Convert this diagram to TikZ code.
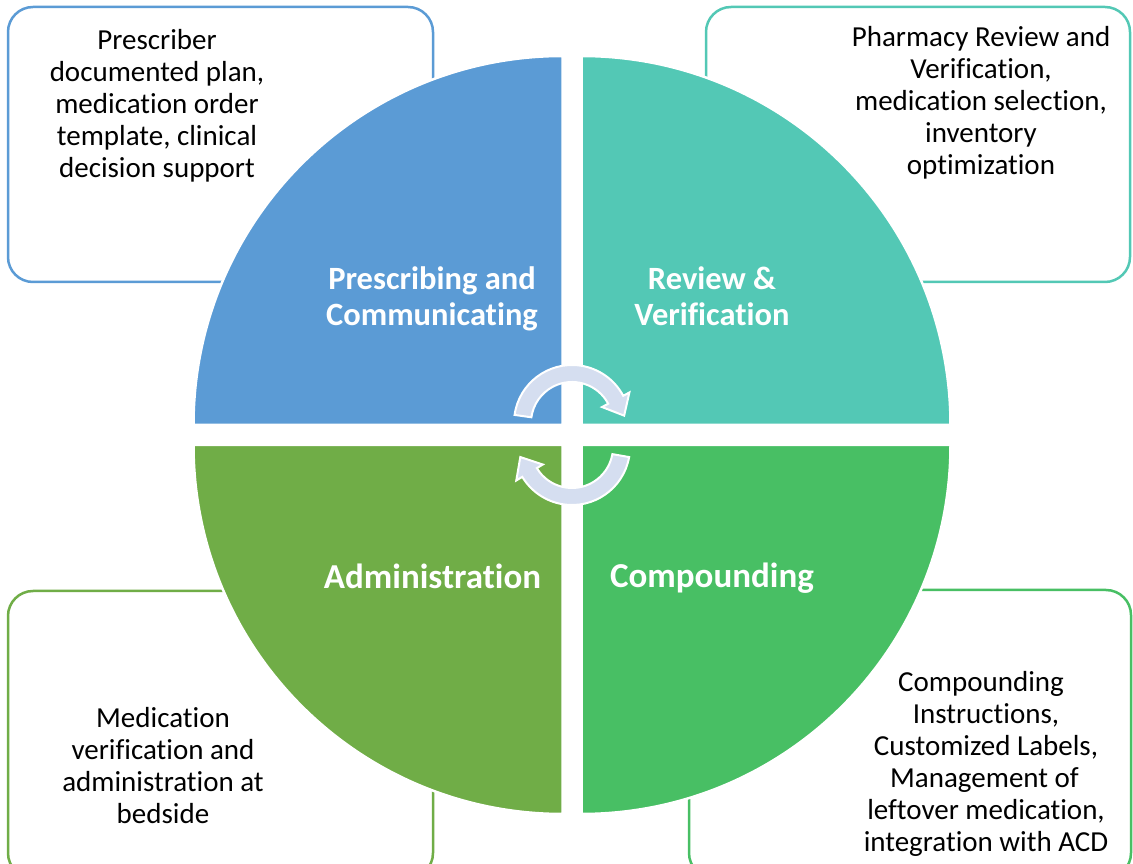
\documentclass[tikz,border=0pt]{standalone}
\usepackage{fontspec}
\setmainfont{Carlito}[Ligatures={NoCommon}]
\usetikzlibrary{calc}
\definecolor{qblue}{HTML}{5B9BD5}
\definecolor{qteal}{HTML}{53C8B5}
\definecolor{qlgreen}{HTML}{70AD47}
\definecolor{qgreen}{HTML}{48BF64}
\definecolor{arrowfill}{HTML}{D5DEF0}
\begin{document}
\begin{tikzpicture}[x=1pt,y=1pt,
 infobox/.style={line width=2.5pt, rounded corners=25pt, fill=white},
 quad/.style={draw=white, line width=2.5pt},
 boxtext/.style={align=center, font=\fontsize{29}{32}\selectfont, text=black},
 quadtext/.style={align=center, font=\bfseries\fontsize{32.5}{36}\selectfont, text=white},
 bigquadtext/.style={align=center, font=\bfseries\fontsize{35}{36}\selectfont, text=white},
 cyc/.style={fill=arrowfill, draw=white, line width=2pt, line join=miter}]
\useasboundingbox (0,0) rectangle (1133,863);
\begin{scope}
\clip (0,0) rectangle (1133,863);
\draw[infobox, draw=qblue] (8,856) rectangle (433,581);
\draw[infobox, draw=qteal] (706,856) rectangle (1130,581);
\draw[infobox, draw=qlgreen] (8,272) rectangle (433,-15);
\draw[infobox, draw=qgreen] (689,273) rectangle (1131,-15);
\end{scope}
\path[quad, fill=qblue] (562.5,438) -- (193.5,438) arc[start angle=180, end angle=90, radius=369] -- cycle;
\path[quad, fill=qteal] (581.5,438) -- (581.5,807) arc[start angle=90, end angle=0, radius=369] -- cycle;
\path[quad, fill=qlgreen] (562.5,418) -- (562.5,49) arc[start angle=270, end angle=180, radius=369] -- cycle;
\path[quad, fill=qgreen] (581.5,418) -- (950.5,418) arc[start angle=0, end angle=-90, radius=369] -- cycle;
\coordinate (ct) at (572,440);
\path[cyc] ($(ct)+(172:58)$) arc[start angle=172, end angle=28, radius=58] -- ($(ct)+(28:65)$) -- ($(ct)+(28:49.5)+(-62:18)$) -- ($(ct)+(28:34)$) -- ($(ct)+(28:41)$) arc[start angle=28, end angle=172, radius=41] -- cycle;
\coordinate (cb) at (572,416);
\path[cyc] ($(cb)+(-10:58)$) arc[start angle=-10, end angle=-149, radius=58] -- ($(cb)+(-149:65)$) -- ($(cb)+(-149:49.5)+(-239:18)$) -- ($(cb)+(-149:34)$) -- ($(cb)+(-149:41)$) arc[start angle=-149, end angle=-10, radius=41] -- cycle;
\node[boxtext] (t1) at (157,757) {Prescriber\\documented plan,\\medication order\\template, clinical\\decision support};
\node[boxtext] (t2) at (981,760) {Pharmacy Review and\\Verification,\\medication selection,\\inventory\\optimization};
\node[boxtext] (t3) at (163,97) {Medication\\verification and\\administration at\\bedside};
\node[boxtext] (t4) at (986,99) {Compounding\rule{10pt}{0pt}\\Instructions,\\Customized Labels,\\Management of\rule{3pt}{0pt}\\leftover medication,\\integration with ACD};
\node[quadtext] (q1) at (432,564.5) {Prescribing and\\Communicating};
\node[quadtext] (q2) at (712,567) {Review \&\\Verification};
\node[bigquadtext] (q3) at (432.5,287) {Administration};
\node[bigquadtext] (q4) at (712,285) {Compounding};
\end{tikzpicture}
\end{document}
